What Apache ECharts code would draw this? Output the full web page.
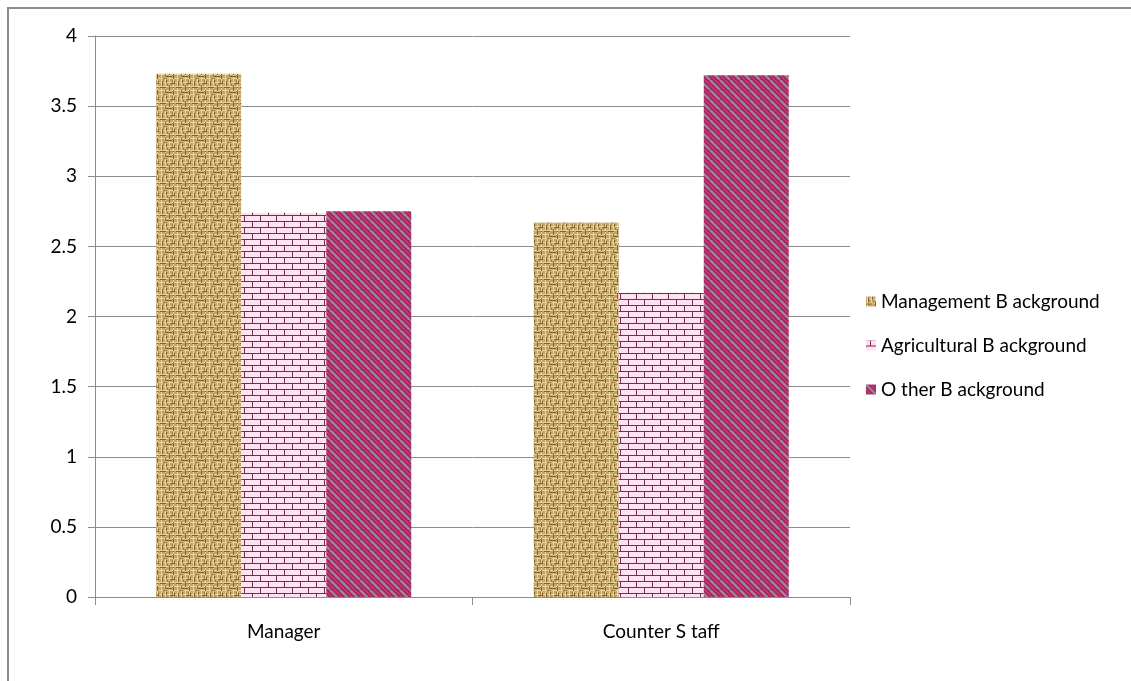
<!DOCTYPE html>
<html>
<head>
<meta charset="utf-8">
<script src="https://cdn.jsdelivr.net/npm/echarts@6/dist/echarts.min.js"></script>
<style>
  html, body { margin: 0; padding: 0; background: #fff; }
  #frame { position: absolute; left: 7px; top: 7px; width: 1124px; height: 674px;
           border-left: 2px solid #8c8c8c; border-top: 2px solid #8c8c8c; }
  #chart { position: absolute; left: 0; top: 0; width: 1131px; height: 681px; }
</style>
</head>
<body>
<div id="frame"></div>
<div id="chart"></div>
<script>
var categories = ['Manager', 'Counter S taff'];
var seriesNames = ['Management B ackground', 'Agricultural B ackground', 'O ther B ackground'];
var managementValues = [3.73, 2.67];
var agriculturalValues = [2.74, 2.17];
var otherValues = [2.75, 3.72];
var yTicks = [0, 0.5, 1, 1.5, 2, 2.5, 3, 3.5, 4];

var FONT = 'Lato, "Open Sans", sans-serif';

// texture: woven tan
function weavePattern() {
  var c = document.createElement('canvas');
  c.width = 16; c.height = 16;
  var g = c.getContext('2d');
  g.fillStyle = '#c4a463';
  g.fillRect(0, 0, 16, 16);
  g.fillStyle = '#ead59c';
  for (var i = 0; i < 16; i += 4) { g.fillRect(i + 1, 0, 1, 16); g.fillRect(0, i + 2, 16, 1); }
  g.fillStyle = '#7e6130';
  g.fillRect(2, 1, 1, 5); g.fillRect(9, 5, 1, 6); g.fillRect(13, 10, 1, 5);
  g.fillRect(0, 7, 6, 1); g.fillRect(6, 12, 6, 1); g.fillRect(10, 3, 5, 1);
  g.fillRect(6, 0, 1, 3); g.fillRect(14, 1, 1, 2);
  g.fillStyle = '#9d7f42';
  g.fillRect(5, 9, 1, 4); g.fillRect(12, 0, 1, 3); g.fillRect(3, 14, 4, 1);
  g.fillRect(11, 7, 4, 1); g.fillRect(7, 4, 1, 2);
  return c;
}
// texture: bricks
function brickPattern() {
  var c = document.createElement('canvas');
  c.width = 16; c.height = 12;
  var g = c.getContext('2d');
  g.fillStyle = '#fde3f1';
  g.fillRect(0, 0, 16, 12);
  g.fillStyle = '#7a2a4c';
  g.fillRect(0, 5, 16, 1); g.fillRect(0, 11, 16, 1);
  g.fillRect(4, 0, 1, 5); g.fillRect(12, 6, 1, 5);
  return c;
}
// texture: diagonal stripes
function stripePattern() {
  var c = document.createElement('canvas');
  c.width = 10; c.height = 10;
  var g = c.getContext('2d');
  g.fillStyle = '#a81f58';
  g.fillRect(0, 0, 10, 10);
  g.strokeStyle = '#8f8ca2';
  g.lineWidth = 2.5;
  for (var k = -10; k <= 20; k += 10) {
    g.beginPath(); g.moveTo(k, 0); g.lineTo(k + 10, 10); g.stroke();
  }
  g.strokeStyle = '#d0437e';
  g.lineWidth = 1.2;
  for (var k = -10; k <= 20; k += 10) {
    g.beginPath(); g.moveTo(k + 5, 0); g.lineTo(k + 15, 10); g.stroke();
  }
  return c;
}

var myChart = echarts.init(document.getElementById('chart'));
var patterns = [weavePattern(), brickPattern(), stripePattern()];
var dataSets = [managementValues, agriculturalValues, otherValues];

var option = {
  animation: false,
  textStyle: { fontFamily: FONT },
  grid: { left: 95, right: 281, top: 36, bottom: 84 },
  legend: {
    orient: 'vertical',
    left: 861,
    top: 287,
    itemWidth: 10,
    itemHeight: 10,
    itemGap: 25,
    icon: 'rect',
    data: seriesNames,
    textStyle: { fontSize: 19, color: '#000', fontFamily: FONT }
  },
  xAxis: {
    type: 'category',
    data: categories,
    axisLine: { lineStyle: { color: '#8c8c8c', width: 1 } },
    axisTick: { show: true, length: 8, lineStyle: { color: '#8c8c8c' } },
    axisLabel: { margin: 25, fontSize: 19, color: '#000' }
  },
  yAxis: {
    type: 'value',
    min: 0,
    max: yTicks[yTicks.length - 1],
    interval: 0.5,
    axisLine: { show: true, lineStyle: { color: '#8c8c8c' } },
    axisTick: { show: true, length: 7, lineStyle: { color: '#8c8c8c' } },
    axisLabel: { margin: 18, fontSize: 19, color: '#000' },
    splitLine: { lineStyle: { color: '#8c8c8c', width: 1 } }
  },
  series: seriesNames.map(function (name, i) {
    return {
      name: name,
      type: 'bar',
      data: dataSets[i],
      barWidth: 85,
      barGap: '0%',
      barCategoryGap: '32%',
      itemStyle: { color: { image: patterns[i], repeat: 'repeat' } }
    };
  })
};
myChart.setOption(option);
</script>
</body>
</html>
